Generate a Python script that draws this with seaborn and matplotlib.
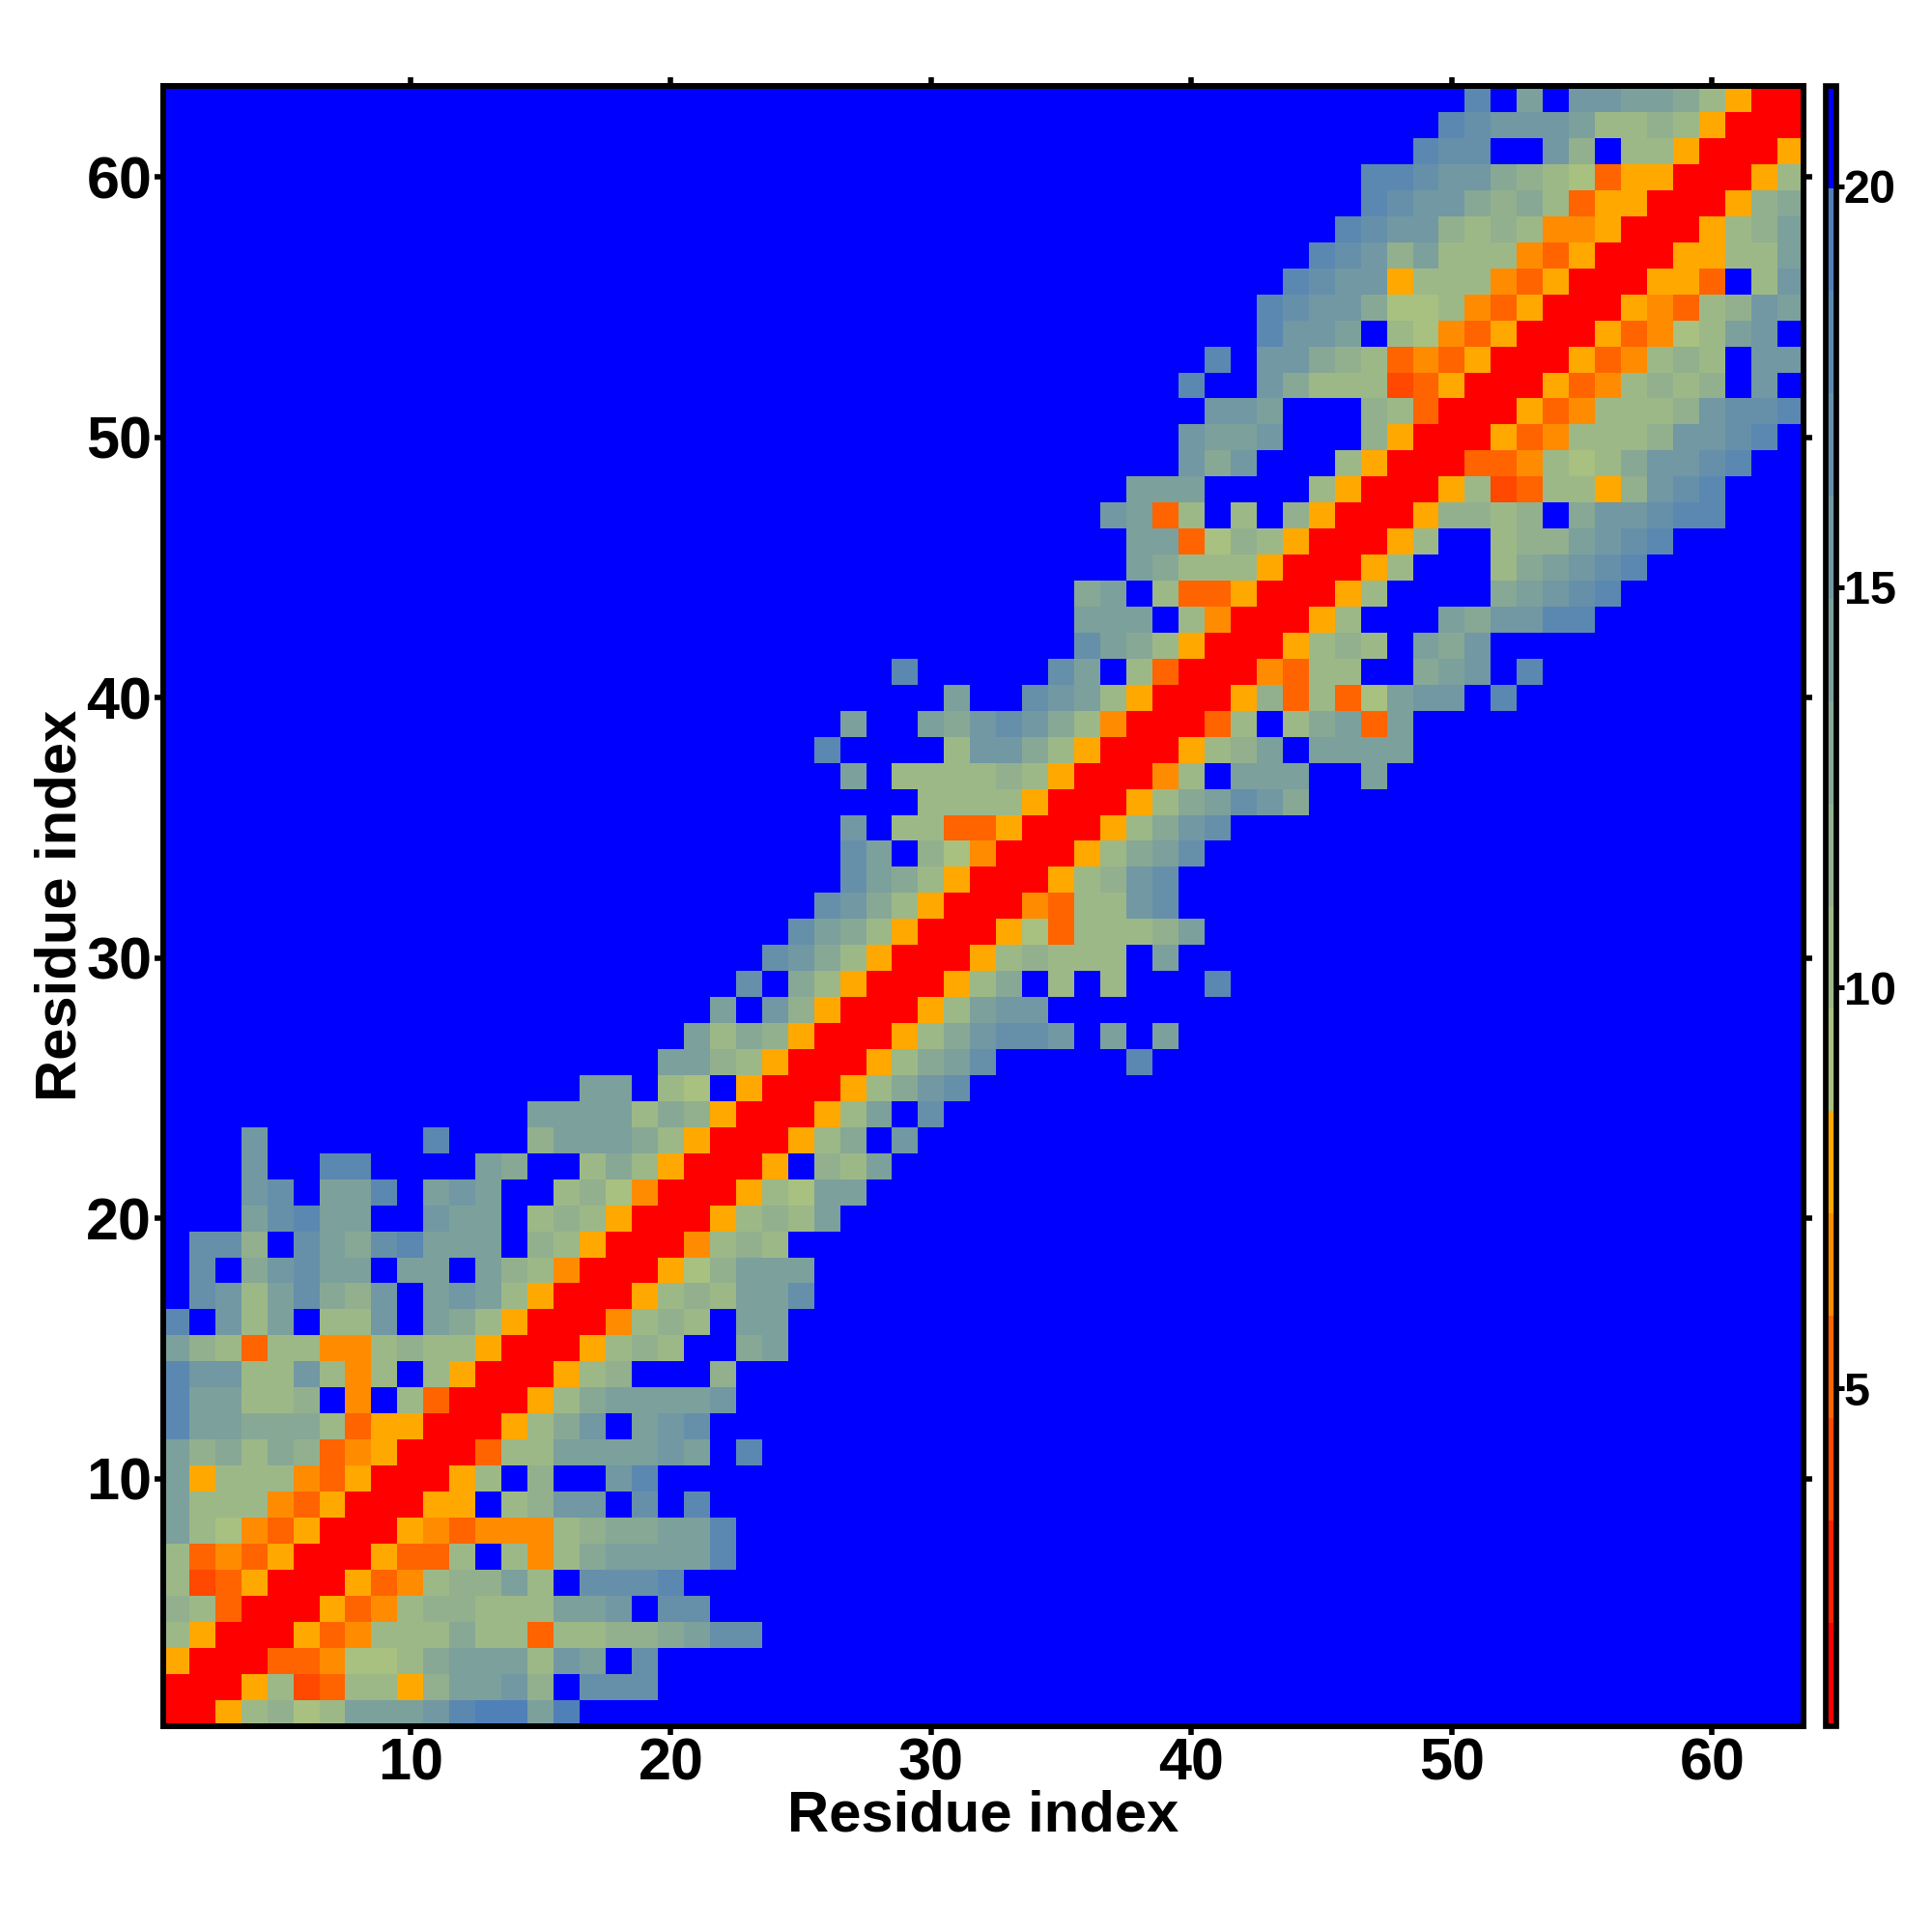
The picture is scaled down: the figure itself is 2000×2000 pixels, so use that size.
import numpy as np
import matplotlib
matplotlib.use("Agg")
import matplotlib.pyplot as plt
from matplotlib.colors import ListedColormap, BoundaryNorm
import seaborn as sns

sns.set_theme(style="ticks")
plt.rcParams["font.family"] = ["Liberation Sans", "DejaVu Sans"]
plt.rcParams["font.weight"] = "bold"

# colour levels of the bar, low to high
level_colors = ["#ff0000", "#ff2000", "#ff4800", "#ff6400", "#ff8c00", "#ffa800",
                "#a8c080", "#9db887", "#92b08e", "#87a895", "#7ca09c", "#7198a3",
                "#6690aa", "#5b88b1", "#5080b8", "#0000ff"]
range_low = 0.79
range_high = 21.25
tick_values = [10, 20, 30, 40, 50, 60]
bar_ticks = [5, 10, 15, 20]

# one entry per residue row, bottom to top: first column, then level code (hex)
# of each cell from there. Everything not listed is the top level (blue)
row_01 = (1, "0057867aaabdeeae")
row_02 = (1, "00057237758aab8fccc")
row_03 = (1, "50003346679aaa7bafc")
row_04 = (1, "75000534777977377889acc")
row_05 = (1, "873000534788777aabfcc")
row_06 = (1, "7235000534788a7fcccd")
row_07 = (1, "734350005337f7479aaaad")
row_08 = (1, "a764350005434447899aad")
row_09 = (1, "a77743500055f78bbfcfd")
row_10 = (1, "a577743500057f8ffbd")
row_11 = (1, "a89798345000377aaaabafd")
row_12 = (1, "daa9997355000579bfabc")
row_13 = (1, "daa778f4f73000579aaaab")
row_14 = (1, "dbb77b747f75000578fff8")
row_15 = (1, "a8737744787750005787ff9a")
row_16 = (1, "dfb7af77bfa9750004787faa")
row_17 = (1, "fcb7ac98bfaba750005787aac")
row_18 = (1, "fcf9bcaafaafa874000568aaa")
row_19 = (1, "fcc8fca9cdaaaf8750004787")
row_20 = (4, "acdaaffbaaf78750005787a")
row_21 = (4, "bcfaadfabaff7864000576aa")
row_22 = (4, "bffddffffa9ff79750005f87a")
row_23 = (4, "bffffffdfff8aaa975000579fb")
row_24 = (15, "aaaa798500057afc")
row_25 = (17, "aaf76f5000579bc")
row_26 = (20, "aa875000579acfffffd")
row_27 = (21, "a7985000579bccbfafa")
row_28 = (22, "afb8500057abb")
row_29 = (23, "cf975000579f7f7fffd")
row_30 = (24, "cb975000578777fa")
row_31 = (25, "ca9750005637778a")
row_32 = (26, "cb9750004377bc")
row_33 = (27, "ca975000578bc")
row_34 = (27, "caf864000579ac")
row_35 = (27, "bf77335000579bc")
row_36 = (30, "77775000579acb9")
row_37 = (27, "af777787500047faaaffa")
row_38 = (26, "dffff7bb975000578afaaaa")
row_39 = (27, "affa9bcb97400037f79a3a")
row_40 = (31, "affcba75000583736abbfd")
row_41 = (29, "dfffffcaf730004377ff9abfd")
row_42 = (36, "ca9750005787fa9b")
row_43 = (36, "aaaf7400057fffa9bbdd")
row_44 = (36, "9af733500057ffff9abcd")
row_45 = (38, "a9777500057fff79abcd")
row_46 = (38, "aa3687500057ff788abcd")
row_47 = (37, "ba37f7f8500058878f9bbcdd")
row_48 = (38, "aaaffff7500057237758bcd")
row_49 = (40, "b9bfff750003347679bbcd")
row_50 = (40, "baabfff850005347778bbcd")
row_51 = (41, "bbafff8730005347778bccd")
row_52 = (40, "dffb97772350005347878fbf")
row_53 = (41, "dfbb9873435000534787fbb")
row_54 = (43, "dbbaf7643500053467abf")
row_55 = (43, "dcbb966743500054378ba")
row_56 = (44, "dcbb5777435000553f7b")
row_57 = (45, "dcb8a77743500 05577a".replace(" ", ""))
row_58 = (46, "dcbb8787445000578a")
row_59 = (47, "dcbb98973550 00589".replace(" ", ""))
row_60 = (47, "ddcbb987635500057")
row_61 = (49, "dccffb8f7750005")
row_62 = (50, "dcbbba77875000")
row_63 = (51, "dfafbbaa97500")

rows = [row_01, row_02, row_03, row_04, row_05, row_06, row_07, row_08, row_09,
        row_10, row_11, row_12, row_13, row_14, row_15, row_16, row_17, row_18,
        row_19, row_20, row_21, row_22, row_23, row_24, row_25, row_26, row_27,
        row_28, row_29, row_30, row_31, row_32, row_33, row_34, row_35, row_36,
        row_37, row_38, row_39, row_40, row_41, row_42, row_43, row_44, row_45,
        row_46, row_47, row_48, row_49, row_50, row_51, row_52, row_53, row_54,
        row_55, row_56, row_57, row_58, row_59, row_60, row_61, row_62, row_63]

n_levels = len(level_colors)
step = (range_high - range_low) / n_levels
bounds = [range_low + step * i for i in range(n_levels + 1)]

# level code -> distance at the middle of that level
dist = np.full((63, 63), range_high - step / 2)
for r, (start, codes) in enumerate(rows):
    for k, ch in enumerate(codes):
        dist[r, start - 1 + k] = range_low + step * (int(ch, 16) + 0.5)

fig = plt.figure(figsize=(10, 10), dpi=200)
ax = fig.add_axes([168.8 / 2000, 213.5 / 2000, 1698 / 2000, 1697.3 / 2000])
cax = fig.add_axes([1889.5 / 2000, 213.5 / 2000, 11.5 / 2000, 1697.3 / 2000])

sns.heatmap(dist, ax=ax, cbar_ax=cax, cmap=ListedColormap(level_colors),
            norm=BoundaryNorm(bounds, n_levels), xticklabels=False, yticklabels=False)
ax.set_xlim(0, 63)
ax.set_ylim(0, 63)

ticks_at = [v - 0.5 for v in tick_values]
ax.set_xticks(ticks_at)
ax.set_yticks(ticks_at)
ax.set_xticklabels(tick_values, fontsize=22, fontweight="bold")
ax.set_yticklabels(tick_values, fontsize=22, fontweight="bold", rotation=0)
ax.tick_params(axis="both", which="major", direction="out", length=3.2, width=2,
               color="black", labelcolor="black", top=True, right=True, bottom=True,
               left=True, labelbottom=True, labelleft=True, pad=1)
ax.set_xlabel("Residue index", fontsize=21.5, fontweight="bold", labelpad=-0.8, color="black")
ax.set_ylabel("Residue index", fontsize=21.5, fontweight="bold", labelpad=-0.6, color="black")
for s in ax.spines.values():
    s.set_visible(True)
    s.set_linewidth(2.16)
    s.set_color("black")

cbar = ax.collections[0].colorbar
cbar.set_ticks(bar_ticks)
cbar.set_ticklabels([str(v) for v in bar_ticks])
cbar.minorticks_off()
cax.tick_params(axis="y", direction="out", length=2.9, width=1.8, labelsize=17.5,
                color="black", labelcolor="black", pad=-0.2, right=True, left=False)
for lab in cax.get_yticklabels():
    lab.set_fontweight("bold")
cbar.outline.set_visible(True)
cbar.outline.set_linewidth(2.05)
cbar.outline.set_edgecolor("black")

fig.savefig("out.png", dpi=200, facecolor="white")
